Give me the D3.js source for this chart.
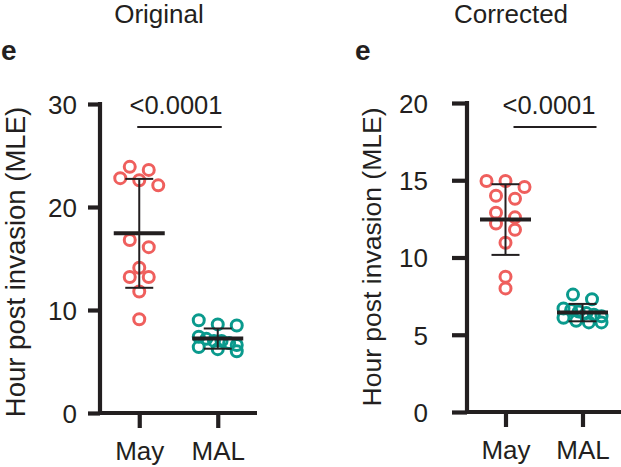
<!DOCTYPE html>
<html>
<head>
<meta charset="utf-8">
<script src="https://cdn.jsdelivr.net/npm/d3@7/dist/d3.min.js"></script>
<style>
  html, body { margin: 0; padding: 0; background: #fff; }
  svg { display: block; }
  text { font-family: "Liberation Sans", Arial, Helvetica, sans-serif; fill: #231f20; }
</style>
</head>
<body>
<svg id="chart" width="621" height="467"></svg>
<script>
// ---- data ----
const categories = ["May", "MAL"];
const panelTitles = ["Original", "Corrected"];
const panelLetter = "e";
const yAxisTitle = "Hour post invasion (MLE)";
const pValueLabels = ["<0.0001", "<0.0001"];

const yTicksOriginal = [0, 10, 20, 30];
const yTicksCorrected = [0, 5, 10, 15, 20];

const originalMay = [23.9, 23.6, 22.8, 22.6, 22.1, 16.8, 16.1, 14.1, 13.2, 13.2, 11.8, 9.1];
const originalMAL = [9.0, 8.5, 8.6, 7.4, 7.2, 7.0, 7.0, 6.8, 6.6, 6.4, 6.2, 6.0];
const correctedMay = [14.95, 14.95, 14.56, 13.8, 14.0, 12.9, 12.2, 12.6, 11.8, 10.95, 8.76, 8.0];
const correctedMAL = [7.6, 7.3, 6.7, 6.6, 6.5, 6.4, 6.3, 6.2, 6.1, 5.9, 5.8, 5.8];

// ---- layout / style ----
const ink = "#231f20";
const colors = { May: "#ef5f5d", MAL: "#0a9a8d" };

const panels = [
  { title: panelTitles[0], ticks: yTicksOriginal, series: [originalMay, originalMAL], p: pValueLabels[0],
    axisX: 100, xEnd: 257, yTop: 104, yBottom: 413, tickLen: 12, tickPad: 11,
    yLabelX: 16, yLabelY: 262, yLabelSize: 27.5, titleX: 159, letterX: 1,
    pText: 176, pLine: [-2, 4] },
  { title: panelTitles[1], ticks: yTicksCorrected, series: [correctedMay, correctedMAL], p: pValueLabels[1],
    axisX: 467, xEnd: 621, yTop: 103, yBottom: 412, tickLen: 15, tickPad: 24,
    yLabelX: 372, yLabelY: 257, yLabelSize: 26.5, titleX: 511, letterX: 355,
    pText: 549, pLine: [8, 14] }
];

const svg = d3.select("#chart");

// GraphPad-like scatter: group points into rows by pixel height, spread each row symmetrically
function swarm(values, y, binH, step, maxHalf) {
  const idx = d3.range(values.length).sort((a, b) => values[b] - values[a]);
  const rows = [];
  let cur = null;
  for (const i of idx) {
    const yi = y(values[i]);
    if (!cur || yi - cur.start > binH) { cur = { start: yi, items: [] }; rows.push(cur); }
    cur.items.push(i);
  }
  const off = new Array(values.length);
  rows.forEach(r => {
    const n = r.items.length;
    const s = n > 1 ? Math.min(step, (2 * maxHalf) / (n - 1)) : 0;
    r.items.forEach((i, k) => { off[i] = (k - (n - 1) / 2) * s; });
  });
  return off;
}

panels.forEach(P => {
  const g = svg.append("g");
  const y = d3.scaleLinear().domain([0, d3.max(P.ticks)]).range([P.yBottom, P.yTop]);
  const x = d3.scalePoint().domain(categories).range([P.axisX, P.xEnd]).padding(0.5);

  // title & panel letter
  g.append("text").attr("x", P.titleX).attr("y", 23).attr("text-anchor", "middle")
    .attr("font-size", 26).text(P.title);
  g.append("text").attr("x", P.letterX).attr("y", 60).attr("font-size", 28)
    .attr("font-weight", "bold").text(panelLetter);

  // y axis
  const yAx = g.append("g").attr("transform", `translate(${P.axisX},0)`)
    .call(d3.axisLeft(y).tickValues(P.ticks).tickSize(P.tickLen).tickSizeOuter(0).tickPadding(P.tickPad));
  yAx.select(".domain").attr("stroke", ink).attr("stroke-width", 4.2)
    .attr("d", `M0,${P.yBottom + 2}V${P.yTop - 2}`);
  yAx.selectAll(".tick line").attr("stroke", ink).attr("stroke-width", 4.2);
  yAx.selectAll(".tick text").attr("font-size", 26).attr("dy", "0.36em")
    .attr("font-family", "Liberation Sans, Arial, sans-serif").attr("fill", ink);

  // x axis
  const xAx = g.append("g").attr("transform", `translate(0,${P.yBottom})`)
    .call(d3.axisBottom(x).tickSize(15).tickSizeOuter(0));
  xAx.select(".domain").attr("stroke", ink).attr("stroke-width", 4.2)
    .attr("d", `M${P.axisX - 2},0H${P.xEnd}`);
  xAx.selectAll(".tick line").attr("stroke", ink).attr("stroke-width", 4.2);
  xAx.selectAll(".tick text").attr("font-size", 26).attr("y", 47).attr("dy", 0)
    .attr("font-family", "Liberation Sans, Arial, sans-serif").attr("fill", ink);

  // y axis title
  g.append("text").attr("transform", `translate(${P.yLabelX + 9},${P.yLabelY}) rotate(-90)`)
    .attr("text-anchor", "middle").attr("font-size", P.yLabelSize).text(yAxisTitle);

  // points
  categories.forEach((c, ci) => {
    const vals = P.series[ci];
    const offs = swarm(vals, y, 9, 19, 19);
    g.append("g").selectAll("circle").data(vals).join("circle")
      .attr("cx", (d, i) => x(c) + offs[i]).attr("cy", d => y(d)).attr("r", 5.5)
      .attr("fill", "none").attr("stroke", colors[c]).attr("stroke-width", 3);
  });

  // mean ± SD
  categories.forEach((c, ci) => {
    const vals = P.series[ci];
    const m = d3.mean(vals), sd = d3.deviation(vals);
    const cx = x(c);
    const eg = g.append("g").attr("stroke", ink);
    eg.append("line").attr("x1", cx).attr("x2", cx).attr("y1", y(m + sd)).attr("y2", y(m - sd)).attr("stroke-width", 2);
    eg.append("line").attr("x1", cx - 14).attr("x2", cx + 14).attr("y1", y(m + sd)).attr("y2", y(m + sd)).attr("stroke-width", 2);
    eg.append("line").attr("x1", cx - 14).attr("x2", cx + 14).attr("y1", y(m - sd)).attr("y2", y(m - sd)).attr("stroke-width", 2);
    eg.append("line").attr("x1", cx - 25.5).attr("x2", cx + 25.5).attr("y1", y(m)).attr("y2", y(m)).attr("stroke-width", 4);
  });

  // significance
  g.append("line").attr("x1", x(categories[0]) + P.pLine[0]).attr("x2", x(categories[1]) + P.pLine[1])
    .attr("y1", 127).attr("y2", 127).attr("stroke", ink).attr("stroke-width", 2.2);
  g.append("text").attr("x", P.pText).attr("y", 114).attr("text-anchor", "middle")
    .attr("font-size", 25.5).text(P.p);
});
</script>
</body>
</html>
